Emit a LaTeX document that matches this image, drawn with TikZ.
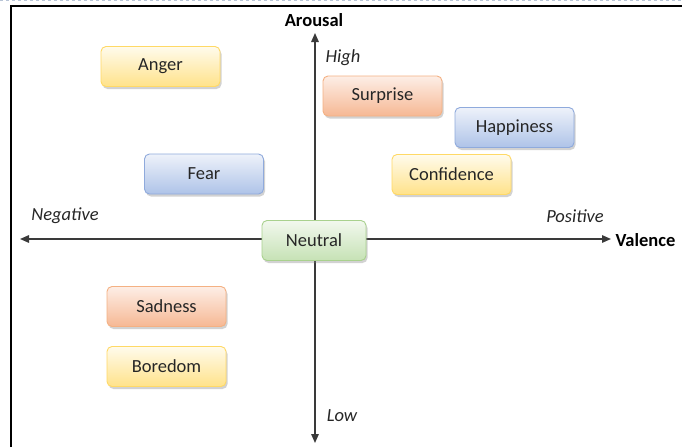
\documentclass[tikz,border=0pt]{standalone}
\usepackage{fontspec}
\setmainfont{Carlito}
\usetikzlibrary{shadows,arrows.meta}
\definecolor{txt}{HTML}{262626}
\definecolor{axiscol}{HTML}{3A3A3A}
\definecolor{ylwT}{HTML}{FFFBEC}
\definecolor{ylwB}{HTML}{FFE28A}
\definecolor{ylwD}{HTML}{FFD966}
\definecolor{orgT}{HTML}{FDEEE6}
\definecolor{orgB}{HTML}{F6B894}
\definecolor{orgD}{HTML}{F4B183}
\definecolor{bluT}{HTML}{EEF2FA}
\definecolor{bluB}{HTML}{AEC3E8}
\definecolor{bluD}{HTML}{8FAADC}
\definecolor{grnT}{HTML}{F2F8EE}
\definecolor{grnB}{HTML}{C6E2B5}
\definecolor{grnD}{HTML}{A9D18E}
\definecolor{dashcol}{HTML}{B8C4D6}
\tikzset{
  emo/.style={rounded corners=5pt, minimum width=119pt, minimum height=40pt,
    font=\fontsize{18.5}{20}\selectfont, text=txt, line width=0.9pt,
    drop shadow={shadow xshift=1.5pt, shadow yshift=-2.5pt, opacity=0.35}},
  ylw/.style={emo, draw=ylwD, top color=ylwT, bottom color=ylwB},
  org/.style={emo, draw=orgD, top color=orgT, bottom color=orgB},
  blu/.style={emo, draw=bluD, top color=bluT, bottom color=bluB},
  grn/.style={emo, draw=grnD, top color=grnT, bottom color=grnB},
  axisline/.style={draw=axiscol, line width=1.4pt,
    {Triangle[length=9pt,width=7.5pt]}-{Triangle[length=9pt,width=7.5pt]}},
  ilbl/.style={font=\fontsize{18.5}{20}\selectfont\itshape, text=txt},
  blbl/.style={font=\fontsize{18.5}{20}\selectfont\bfseries, text=black},
}
\begin{document}
\begin{tikzpicture}[x=1pt,y=-1pt]
\useasboundingbox (0,0) rectangle (682,447);
\fill[white] (0,0) rectangle (682,447);
% frame
\draw[dashcol, dashed, line width=0.8pt] (0,0.6) -- (682,0.6);
\draw[black, line width=1.5pt] (11,447) -- (11,6) -- (682,6);
% axes
\coordinate (vtop) at (315,33);
\coordinate (vbot) at (315,443);
\coordinate (hleft) at (20,239);
\coordinate (hright) at (611,239);
\draw[axisline] (vbot) -- (vtop);
\draw[axisline] (hleft) -- (hright);
% axis labels
\node[blbl, anchor=south] (arousal) at (314,30) {Arousal};
\node[blbl, anchor=west] (valence) at (612,240) {Valence};
\node[ilbl] (high) at (343,58) {High};
\node[ilbl] (low) at (342,416) {Low};
\node[ilbl] (neg) at (65,216) {Negative};
\node[ilbl] (pos) at (575,216) {Positive};
% emotions
\node[ylw] (anger) at (160.5,66.5) {Anger};
\node[org] (surprise) at (382.5,96) {Surprise};
\node[blu] (happiness) at (514.5,127.5) {Happiness};
\node[blu] (fear) at (204,174) {Fear};
\node[ylw] (confidence) at (451.5,174.5) {Confidence};
\node[grn, minimum width=104pt] (neutral) at (314,240.5) {Neutral};
\node[org] (sadness) at (166.5,306.5) {Sadness};
\node[ylw] (boredom) at (166.5,366.5) {Boredom};
\end{tikzpicture}
\end{document}
